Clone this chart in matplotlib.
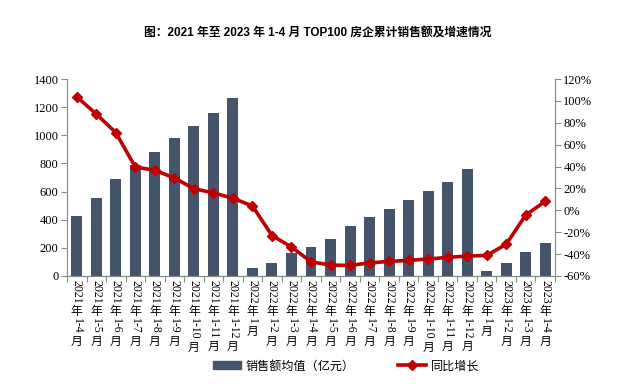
import re
import matplotlib
matplotlib.use('Agg')
import matplotlib.pyplot as plt
import numpy as np
from matplotlib.lines import Line2D
from matplotlib.patches import Patch

# 数据
categories = ['2021年1-4月', '2021年1-5月', '2021年1-6月', '2021年1-7月', '2021年1-8月',
              '2021年1-9月', '2021年1-10月', '2021年1-11月', '2021年1-12月',
              '2022年1月', '2022年1-2月', '2022年1-3月', '2022年1-4月', '2022年1-5月',
              '2022年1-6月', '2022年1-7月', '2022年1-8月', '2022年1-9月', '2022年1-10月',
              '2022年1-11月', '2022年1-12月',
              '2023年1月', '2023年1-2月', '2023年1-3月', '2023年1-4月']
sales = [423, 554, 688, 788, 881, 981, 1066, 1159, 1266,
         59, 95, 162, 209, 265, 354, 416, 474, 538, 602, 666, 759,
         38, 95, 174, 238]
growth = [103.7, 88.0, 71.0, 39.6, 36.6, 29.6, 19.8, 16.0, 11.0,
          4.0, -23.0, -33.5, -47.0, -50.0, -50.3, -48.0, -46.7, -45.7, -44.5, -43.0, -41.8,
          -41.2, -31.0, -4.3, 8.2]

title = '图：2021 年至 2023 年 1-4 月 TOP100 房企累计销售额及增速情况'
bar_name = '销售额均值（亿元）'
line_name = '同比增长'

bar_color = '#44546A'
line_color = '#C00000'
axis_color = '#898989'
serif = ['Liberation Serif', 'Noto Sans CJK SC']
cjk = ['Noto Sans CJK SC', 'DejaVu Sans']

fig = plt.figure(figsize=(6.35, 3.84), dpi=100)
ax = fig.add_axes([67 / 635, 1 - 276 / 384, (555 - 67) / 635, (276 - 79) / 384])
ax2 = ax.twinx()

x = np.arange(len(categories))
ax.bar(x, sales, width=0.56, color=bar_color, zorder=2)
ax2.plot(x, growth, color=line_color, lw=2.6, marker='D', ms=5.5, zorder=3)

ax.set_xlim(-0.5, len(categories) - 0.5)
ax.set_ylim(0, 1400)
ax.set_yticks(np.arange(0, 1401, 200))
ax2.set_ylim(-60, 120)
ax2.set_yticks(np.arange(-60, 121, 20))
ax2.set_yticklabels(['%d%%' % v for v in np.arange(-60, 121, 20)])

for a in (ax, ax2):
    a.spines['top'].set_visible(False)
    for s in ('left', 'right', 'bottom'):
        a.spines[s].set_color(axis_color)
    a.tick_params(axis='y', colors=axis_color, length=4, width=0.8, labelsize=9,
                  labelcolor='black', pad=2)
    for lab in a.get_yticklabels():
        lab.set_family(serif)
ax.spines['right'].set_visible(False)
ax2.spines['left'].set_visible(False)

# x 轴刻度：类别边界处的小刻度
ax.set_xticks([])
ax.set_xticks(np.arange(-0.5, len(categories), 1.0), minor=True)
ax.tick_params(axis='x', which='minor', length=4, width=0.8, colors=axis_color)

# 竖排标签：数字旋转，汉字直立
fs = 8.5
renderer = fig.canvas.get_renderer()
for i, lab in enumerate(categories):
    off = 3.0
    for seg in re.findall(r'[\u4e00-\u9fff]|[^\u4e00-\u9fff]+', lab):
        is_cjk = bool(re.match(r'[\u4e00-\u9fff]', seg))
        t = ax.annotate(seg, xy=(i, 0), xycoords=ax.get_xaxis_transform(),
                        xytext=(0, -off), textcoords='offset points',
                        ha='center', va='top', fontsize=fs,
                        rotation=0 if is_cjk else -90,
                        family=cjk if is_cjk else serif)
        h = t.get_window_extent(renderer).height * 72 / fig.dpi
        off += h + (0.3 if is_cjk else 0.6)

fig.text(318 / 635, 1 - 33 / 384, title, ha='center', va='center', fontsize=8.5,
         fontweight='bold', family=['Liberation Sans', 'Noto Sans CJK SC'])

handles = [Patch(color=bar_color, label=bar_name),
           Line2D([], [], color=line_color, lw=2.6, marker='D', ms=5.5, label=line_name)]
fig.legend(handles=handles, loc='center', bbox_to_anchor=(346 / 635, 1 - 366 / 384),
           ncol=2, frameon=False, prop={'family': cjk, 'size': 8.7},
           handlelength=2.3, handleheight=0.6, columnspacing=3.6, handletextpad=0.4)

fig.savefig('out.png', dpi=100)
